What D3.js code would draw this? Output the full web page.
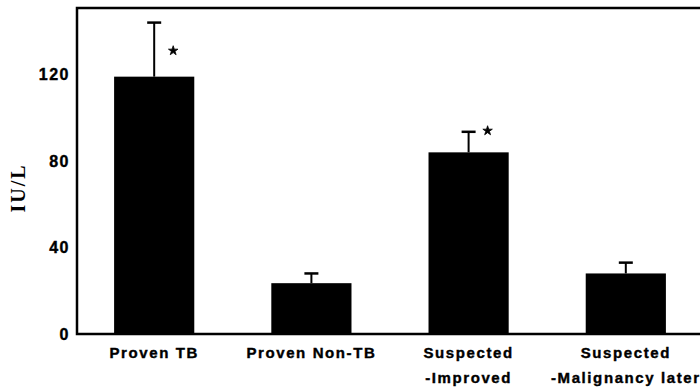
<!DOCTYPE html>
<html>
<head>
<meta charset="utf-8">
<script src="https://cdn.jsdelivr.net/npm/d3@7"></script>
<style>
  html, body { margin: 0; padding: 0; background: #fff; }
  svg { display: block; }
  .tick-label { font-family: "Liberation Sans", Arial, sans-serif; font-weight: bold; font-size: 16px; letter-spacing: 1.5px; stroke: #000; stroke-width: 0.4px; }
  .cat-label { font-family: "Liberation Sans", Arial, sans-serif; font-weight: bold; font-size: 15px; letter-spacing: 1.6px; stroke: #000; stroke-width: 0.4px; }
  .y-title { font-family: "Liberation Serif", "Times New Roman", serif; font-weight: bold; font-size: 20px; letter-spacing: 2px; }
</style>
</head>
<body>
<svg id="chart" width="700" height="389"></svg>
<script>
// data
const categories = ["Proven TB", "Proven Non-TB", "Suspected\n-Improved", "Suspected\n-Malignancy later"];
const means = [119, 23.5, 84, 28];
const errors = [25, 4.5, 9.5, 5];
const starAt = [131, null, 94, null];   // '*' significance marks
const yTicks = [0, 40, 80, 120];

const width = 700, height = 389;
const x0 = 77, x1 = 703, yBase = 334, yTop = 8;

const svg = d3.select("#chart");

const x = d3.scaleBand()
    .domain(categories)
    .range([x0, x1])
    .paddingInner(0.49)
    .paddingOuter(0.236);

const y = d3.scaleLinear()
    .domain([0, 150.75])
    .range([yBase, yTop]);

// bars
svg.selectAll(".bar")
    .data(categories)
    .enter()
    .append("rect")
    .attr("class", "bar")
    .attr("x", d => x(d))
    .attr("y", (d, i) => y(means[i]))
    .attr("width", x.bandwidth())
    .attr("height", (d, i) => yBase - y(means[i]))
    .attr("fill", "#000");

// error bars (upper only)
const eb = svg.selectAll(".err")
    .data(categories)
    .enter()
    .append("g")
    .attr("class", "err")
    .attr("transform", d => `translate(${x(d) + x.bandwidth() / 2},0)`);

eb.append("line")
    .attr("x1", 0).attr("x2", 0)
    .attr("y1", (d, i) => y(means[i]))
    .attr("y2", (d, i) => y(means[i] + errors[i]))
    .attr("stroke", "#000")
    .attr("stroke-width", 2);

eb.append("line")
    .attr("x1", -7).attr("x2", 7)
    .attr("y1", (d, i) => y(means[i] + errors[i]))
    .attr("y2", (d, i) => y(means[i] + errors[i]))
    .attr("stroke", "#000")
    .attr("stroke-width", 2.5);

// significance stars
svg.selectAll(".star")
    .data(categories.filter((d, i) => starAt[i] != null))
    .enter()
    .append("path")
    .attr("class", "star")
    .attr("d", d3.symbol().type(d3.symbolStar).size(28))
    .attr("transform", d => {
        const i = categories.indexOf(d);
        return `translate(${x(d) + x.bandwidth() / 2 + 19},${y(starAt[i])})`;
    })
    .attr("fill", "#000")
    .attr("stroke", "#000")
    .attr("stroke-width", 0.8);

// frame: left axis, top rule, baseline (no right side)
svg.append("path")
    .attr("d", `M${width},${yTop}H${x0}V${yBase}H${width}`)
    .attr("fill", "none")
    .attr("stroke", "#000")
    .attr("stroke-width", 2.5);

// y axis labels (no tick marks)
const yAxis = d3.axisLeft(y)
    .tickValues(yTicks)
    .tickSize(0)
    .tickPadding(7)
    .tickFormat(d3.format("d"));

svg.append("g")
    .attr("transform", `translate(${x0},0)`)
    .call(yAxis)
    .attr("font-family", null)
    .attr("font-size", null)
    .call(g => g.select(".domain").remove())
    .call(g => g.selectAll("text")
        .attr("class", "tick-label")
        .attr("fill", "#000"));

// category labels
const xAxis = d3.axisBottom(x).tickSize(0).tickFormat("");
const xg = svg.append("g")
    .attr("transform", `translate(0,${yBase})`)
    .call(xAxis)
    .attr("font-family", null)
    .attr("font-size", null)
    .call(g => g.select(".domain").remove());

xg.selectAll(".tick")
    .append("text")
    .attr("class", "cat-label")
    .attr("text-anchor", "middle")
    .attr("fill", "#000")
    .each(function(d) {
        const t = d3.select(this);
        d.split("\n").forEach((ln, k) => {
            t.append("tspan")
                .attr("x", 0)
                .attr("y", 24 + k * 25)
                .text(ln);
        });
    });

// y title
svg.append("text")
    .attr("class", "y-title")
    .attr("text-anchor", "middle")
    .attr("transform", "translate(25,188) rotate(-90)")
    .text("IU/L");
</script>
</body>
</html>
